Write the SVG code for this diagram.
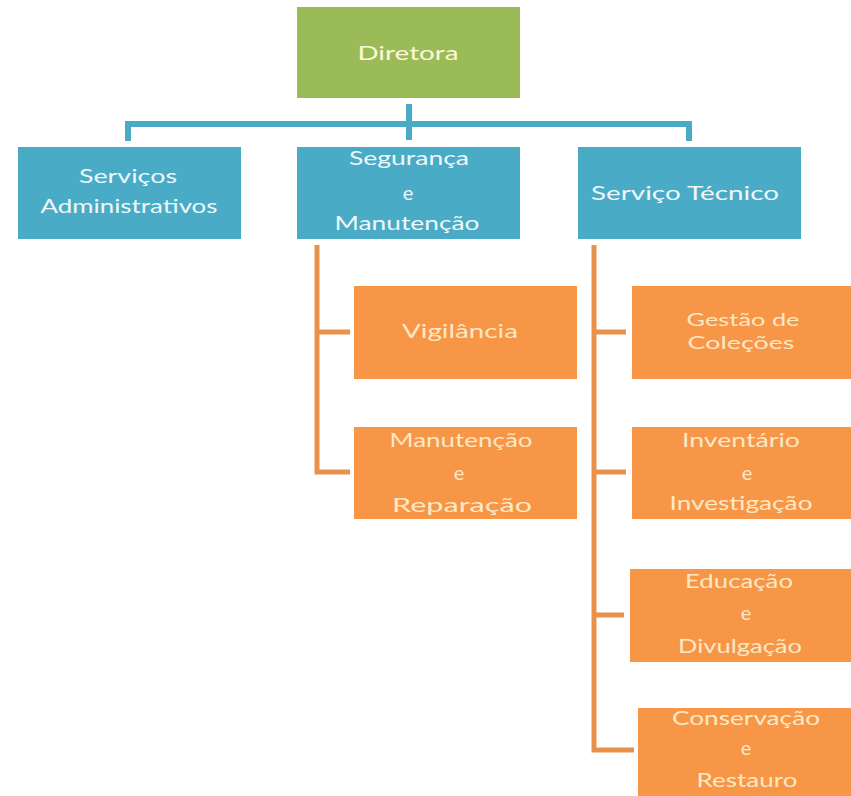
<svg xmlns="http://www.w3.org/2000/svg" width="851" height="796" viewBox="0 0 851 796">
<style>
.t{font-family:Lato,"Open Sans","Liberation Sans",sans-serif;font-size:20px;text-anchor:middle}
.s{font-size:18px}
.g{fill:#9bbb59}
.b{fill:#4aabc7}
.o{fill:#f79646}
.tg{fill:#fdf8d6}
.tb{fill:#eef8fb}
.to{fill:#fde8c6}
.lt{fill:none;stroke:#4aabc7;stroke-width:6}
.lo{fill:none;stroke:#e7914b;stroke-width:5}
</style>
<rect width="851" height="796" fill="#ffffff"/>
<g id="connectors">
<path class="lt" d="M409,104 V140 M128,141 V124 H689 V141"/>
<path class="lo" d="M317,245 V472 H350 M317,332 H350"/>
<path class="lo" d="M594,245 V750 H634 M594,332 H626 M594,472 H626 M594,615 H624"/>
</g>
<g id="diretora">
<rect class="g" x="297" y="7" width="223" height="91"/>
<text class="t tg" x="408" y="60" textLength="101" lengthAdjust="spacingAndGlyphs">Diretora</text>
</g>
<g id="servicos-administrativos">
<rect class="b" x="18" y="147" width="223" height="92"/>
<text class="t tb" x="128" y="183" textLength="98" lengthAdjust="spacingAndGlyphs">Serviços</text>
<text class="t tb" x="129" y="213" textLength="177" lengthAdjust="spacingAndGlyphs">Administrativos</text>
</g>
<g id="seguranca-manutencao">
<rect class="b" x="297" y="147" width="223" height="92"/>
<text class="t tb" x="409" y="165" textLength="120" lengthAdjust="spacingAndGlyphs">Segurança</text>
<text class="t tb" x="408" y="200">e</text>
<text class="t tb" x="407" y="230" textLength="145" lengthAdjust="spacingAndGlyphs">Manutenção</text>
</g>
<g id="servico-tecnico">
<rect class="b" x="578" y="147" width="223" height="92"/>
<text class="t tb" x="685" y="200" textLength="188" lengthAdjust="spacingAndGlyphs">Serviço Técnico</text>
</g>
<g id="vigilancia">
<rect class="o" x="354" y="286" width="223" height="93"/>
<text class="t to" x="460" y="338" textLength="116" lengthAdjust="spacingAndGlyphs">Vigilância</text>
</g>
<g id="manutencao-reparacao">
<rect class="o" x="354" y="427" width="223" height="92"/>
<text class="t to" x="461" y="447" textLength="143" lengthAdjust="spacingAndGlyphs">Manutenção</text>
<text class="t to" x="459" y="480">e</text>
<text class="t to" x="462" y="512" textLength="140" lengthAdjust="spacingAndGlyphs">Reparação</text>
</g>
<g id="gestao-colecoes">
<rect class="o" x="632" y="286" width="219" height="93"/>
<text class="t s to" x="743" y="326" textLength="113" lengthAdjust="spacingAndGlyphs">Gestão de</text>
<text class="t s to" x="741" y="349" textLength="107" lengthAdjust="spacingAndGlyphs">Coleções</text>
</g>
<g id="inventario-investigacao">
<rect class="o" x="632" y="427" width="219" height="92"/>
<text class="t to" x="741" y="447" textLength="118" lengthAdjust="spacingAndGlyphs">Inventário</text>
<text class="t to" x="747" y="480">e</text>
<text class="t to" x="741" y="510" textLength="143" lengthAdjust="spacingAndGlyphs">Investigação</text>
</g>
<g id="educacao-divulgacao">
<rect class="o" x="630" y="569" width="221" height="93"/>
<text class="t to" x="739" y="588" textLength="108" lengthAdjust="spacingAndGlyphs">Educação</text>
<text class="t to" x="746" y="620">e</text>
<text class="t to" x="740" y="653" textLength="124" lengthAdjust="spacingAndGlyphs">Divulgação</text>
</g>
<g id="conservacao-restauro">
<rect class="o" x="638" y="708" width="213" height="88"/>
<text class="t to" x="746" y="725" textLength="148" lengthAdjust="spacingAndGlyphs">Conservação</text>
<text class="t to" x="746" y="755">e</text>
<text class="t to" x="747" y="787" textLength="101" lengthAdjust="spacingAndGlyphs">Restauro</text>
</g>
</svg>
